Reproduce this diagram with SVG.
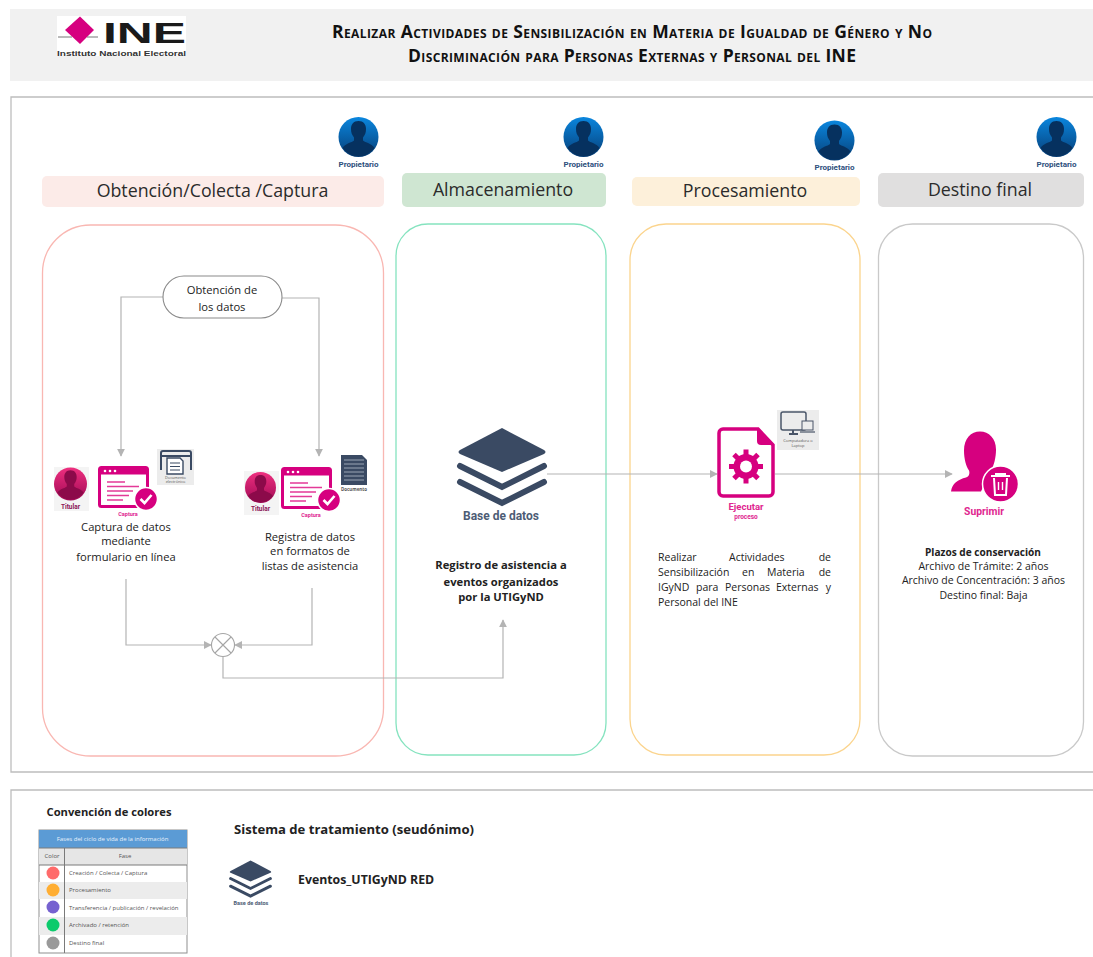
<svg xmlns="http://www.w3.org/2000/svg" width="1093" height="957" viewBox="0 0 1093 957">
<style>
text{font-family:"Open Sans","Liberation Sans",sans-serif;fill:#222}
.t{font-size:11.200px;text-anchor:middle}
.s{font-size:10.500px;text-anchor:middle}
.b{font-weight:700}
.h{font-size:17.800px;text-anchor:middle;fill:#2b2b2b}
.title{font-size:17.500px;font-weight:700;font-variant:small-caps;text-anchor:middle;fill:#111}
.pk{fill:#e0268f;font-family:Roboto,"Liberation Sans",sans-serif;font-weight:700;text-anchor:middle}
.own{fill:#2d4f7c;font-family:Roboto,"Liberation Sans",sans-serif;font-weight:700;font-size:8px;text-anchor:middle}
.frame{fill:none;stroke:#bdbdbd;stroke-width:1.300}
.c{fill:none;stroke:#b4b4b4;stroke-width:1.200}
.lt{font-size:6px;fill:#555}
</style>
<defs>
<marker id="a" viewBox="0 0 10 10" refX="9" refY="5" markerWidth="8" markerHeight="8" markerUnits="userSpaceOnUse" orient="auto"><path d="M0 0L10 5L0 10Z" fill="#b4b4b4"/></marker>
<linearGradient id="blue" x1="0" y1="0" x2="0" y2="1"><stop offset="0" stop-color="#0a86de"/><stop offset="1" stop-color="#073f78"/></linearGradient>
<linearGradient id="red" x1="0" y1="0" x2="0" y2="1"><stop offset="0" stop-color="#ee2f7f"/><stop offset="1" stop-color="#a00a55"/></linearGradient>
<symbol id="head" viewBox="0 0 40 40" overflow="visible">
<path d="M20 4c5 0 7.500 3.500 7.500 8 0 3.500-1 6-3 8.500v3c2 2 9 3 11.500 7.500a19.500 19.500 0 0 1-32 0c2.500-4.500 9.500-5.500 11.500-7.500v-3c-2-2.500-3-5-3-8.500 0-4.500 2.500-8 7.500-8z"/>
</symbol>
<symbol id="form" viewBox="0 0 60 46" overflow="visible">
<rect x="1.500" y="1.500" width="48" height="39" rx="2" fill="#fff" stroke="#d6007f" stroke-width="3"/>
<rect x="1.500" y="1.500" width="48" height="7" fill="#d6007f"/>
<circle cx="7" cy="5" r="1.300" fill="#fff"/><circle cx="12" cy="5" r="1.300" fill="#fff"/><circle cx="17" cy="5" r="1.300" fill="#fff"/>
<path d="M9 16h18M9 20.500h32M9 25h26M9 29.500h22M9 34h16" stroke="#e33a98" stroke-width="1.600"/>
<circle cx="48" cy="33" r="11.500" fill="#d6007f" stroke="#fff" stroke-width="1.500"/>
<path d="M42.500 33l4 4 7-8" fill="none" stroke="#fff" stroke-width="2.600"/>
</symbol>
<symbol id="layers" viewBox="0 0 90 80" overflow="visible">
<path d="M45 1L87 23Q90 25 87 27L45 45L3 27Q0 25 3 23Z" fill="#3a4a63"/>
<path d="M3 39L45 60L87 39" fill="none" stroke="#3a4a63" stroke-width="6" stroke-linecap="round"/>
<path d="M3 55L45 76L87 55" fill="none" stroke="#3a4a63" stroke-width="6" stroke-linecap="round"/>
</symbol>
</defs>

<rect id="header" x="10" y="9" width="1083" height="72" fill="#f1f1f1"/>
<g id="logo">
<rect x="57" y="16" width="129" height="40" fill="#fff"/>
<path d="M80 16.500L94 30 80 44 65 30Z" fill="#d6007f"/>
<path d="M58 37h14M87 37h11" stroke="#777" stroke-width="1"/>
<text x="103" y="43" style="font-family:'Liberation Sans',sans-serif;font-weight:700;font-size:29px;fill:#1a1a1a" textLength="83" lengthAdjust="spacingAndGlyphs">INE</text>
<text x="121.500" y="56" style="font-family:'Liberation Sans',sans-serif;font-weight:700;font-size:7.500px;text-anchor:middle;fill:#333" textLength="129" lengthAdjust="spacingAndGlyphs">Instituto Nacional Electoral</text>
</g>
<text class="title" x="632" y="38" textLength="600">Realizar Actividades de Sensibilización en Materia de Igualdad de Género y No</text>
<text class="title" x="632" y="62" textLength="448">Discriminación para Personas Externas y Personal del INE</text>

<path class="frame" d="M1093 97H11V772H1093"/>
<path class="frame" d="M1093 790H11V957"/>

<g id="fase-obtencion">
<rect x="42" y="176" width="342" height="31" rx="5" fill="#fcebe8"/>
<text class="h" x="212.500" y="197">Obtención/Colecta /Captura</text>
<rect x="42.500" y="225" width="341" height="531" rx="48" fill="none" stroke="#f9b7b2" stroke-width="1.300"/>
</g>
<g id="fase-almacenamiento">
<rect x="402" y="173" width="204" height="34" rx="5" fill="#cfe6d2"/>
<text class="h" x="503" y="196">Almacenamiento</text>
<rect x="396" y="224" width="210" height="531" rx="32" fill="none" stroke="#85e3bf" stroke-width="1.300"/>
</g>
<g id="fase-procesamiento">
<rect x="632" y="177" width="228" height="29" rx="5" fill="#fdf0da"/>
<text class="h" x="745" y="197">Procesamiento</text>
<rect x="630" y="224" width="230" height="531" rx="36" fill="none" stroke="#fbd48d" stroke-width="1.300"/>
</g>
<g id="fase-destino">
<rect x="878" y="173" width="206" height="34" rx="5" fill="#e0dfdf"/>
<text class="h" x="980" y="196">Destino final</text>
<rect x="878.500" y="224" width="205" height="532" rx="34" fill="none" stroke="#c9c9c9" stroke-width="1.300"/>
</g>

<g id="propietarios">
<g id="prop1"><circle cx="358.500" cy="137" r="20" fill="url(#blue)"/><use href="#head" x="338.500" y="117" width="40" height="40" fill="#06315f"/><text class="own" x="358.500" y="167">Propietario</text></g>
<g id="prop2"><circle cx="583.500" cy="137" r="20" fill="url(#blue)"/><use href="#head" x="563.500" y="117" width="40" height="40" fill="#06315f"/><text class="own" x="583.500" y="167">Propietario</text></g>
<g id="prop3"><circle cx="834.500" cy="140.500" r="20" fill="url(#blue)"/><use href="#head" x="814.500" y="120.500" width="40" height="40" fill="#06315f"/><text class="own" x="834.500" y="170">Propietario</text></g>
<g id="prop4"><circle cx="1056.500" cy="137" r="20" fill="url(#blue)"/><use href="#head" x="1036.500" y="117" width="40" height="40" fill="#06315f"/><text class="own" x="1056.500" y="167">Propietario</text></g>
</g>

<g id="connectors">
<path class="c" d="M163 297H121V456" marker-end="url(#a)"/>
<path class="c" d="M282 298H319V456" marker-end="url(#a)"/>
<path class="c" d="M126 579V645H211" marker-end="url(#a)"/>
<path class="c" d="M312 588V645H235" marker-end="url(#a)"/>
<path class="c" d="M223 657V678H503V620" marker-end="url(#a)"/>
<path class="c" d="M547 474H717" marker-end="url(#a)"/>
<path class="c" d="M775 474H952" marker-end="url(#a)"/>
</g>

<g id="obtencion-datos">
<rect x="163" y="276" width="119" height="42" rx="21" fill="#fff" stroke="#8a8a8a" stroke-width="1.100"/>
<text class="t" x="222" y="294">Obtención de</text>
<text class="t" x="222" y="311">los datos</text>
</g>

<g id="captura-1">
<rect x="54" y="467" width="35" height="44" fill="#f4f4f4"/>
<circle cx="70.500" cy="484" r="16.500" fill="url(#red)"/><use href="#head" x="54" y="467" width="33" height="33" fill="#8c0a4a"/>
<text x="70.500" y="509" style="font-size:6.500px;font-weight:700;text-anchor:middle;fill:#8c1458;font-family:Roboto,sans-serif">Titular</text>
<use href="#form" x="98" y="466" width="60" height="46"/>
<text class="pk" x="128" y="516" style="font-size:5.500px">Captura</text>
<rect x="157" y="449" width="37" height="36" fill="#ececec"/>
<path d="M161 470v-17a2 2 0 0 1 2-2h26a2 2 0 0 1 2 2v17M161 456h30" fill="none" stroke="#3a4a63" stroke-width="2"/>
<path d="M167 458h13l3 3v13h-16z" fill="#fff" stroke="#3a4a63" stroke-width="1.400"/>
<path d="M170 463h10M170 466.500h10M170 470h10" stroke="#3a4a63"/>
<text class="lt" x="175.500" y="479" style="font-size:3.800px;text-anchor:middle">Documento</text>
<text class="lt" x="175.500" y="483" style="font-size:3.800px;text-anchor:middle">electrónico</text>
<text class="t" x="126" y="531">Captura de datos</text>
<text class="t" x="126" y="545">mediante</text>
<text class="t" x="126" y="561">formulario en línea</text>
</g>

<g id="captura-2">
<rect x="244" y="471" width="35" height="44" fill="#f4f4f4"/>
<circle cx="260.500" cy="487.500" r="15.500" fill="url(#red)"/><use href="#head" x="245" y="472" width="31" height="31" fill="#8c0a4a"/>
<text x="260.500" y="511" style="font-size:6.500px;font-weight:700;text-anchor:middle;fill:#8c1458;font-family:Roboto,sans-serif">Titular</text>
<use href="#form" x="281" y="467" width="60" height="46"/>
<text class="pk" x="311" y="517" style="font-size:5.500px">Captura</text>
<path d="M341 455h21l5 5v25h-26z" fill="#3a4a63"/>
<path d="M344 460h20M344 464h20M344 468h20M344 472h20M344 476h20M344 480h20" stroke="#9aa5b5" stroke-width="1"/>
<text class="lt" x="354" y="491" style="font-size:4.500px;text-anchor:middle;font-weight:700">Documento</text>
<text class="t" x="310" y="541">Registra de datos</text>
<text class="t" x="310" y="555">en formatos de</text>
<text class="t" x="310" y="570">listas de asistencia</text>
</g>

<g id="union">
<circle cx="223" cy="645" r="11.500" fill="#fff" stroke="#a5a5a5" stroke-width="1.100"/>
<path d="M215 637L231 653M231 637L215 653" stroke="#a5a5a5" stroke-width="1.100"/>
</g>

<g id="base-datos">
<use href="#layers" x="457" y="427" width="90" height="80"/>
<text x="501" y="520" style="font-family:Roboto,sans-serif;font-size:12px;font-weight:700;text-anchor:middle;fill:#4d5c75">Base de datos</text>
<text class="t b" x="501" y="569">Registro de asistencia a</text>
<text class="t b" x="501" y="586">eventos organizados</text>
<text class="t b" x="501" y="601">por la UTIGyND</text>
</g>

<g id="ejecutar">
<path d="M723 429h35l15 16v47a4 4 0 0 1-4 4h-46a4 4 0 0 1-4-4v-59a4 4 0 0 1 4-4z" fill="#fff" stroke="#d6007f" stroke-width="3.500"/>
<path d="M757 429l16 16h-12a4 4 0 0 1-4-4z" fill="#d6007f"/>
<circle cx="746" cy="466.500" r="12.500" fill="#d6007f"/>
<path d="M746 449.500v34M729 466.500h34M734 454.500l24 24M758 454.500l-24 24" stroke="#d6007f" stroke-width="5"/>
<circle cx="746" cy="466.500" r="6" fill="#fff"/>
<text class="pk" x="746" y="510" style="font-size:9.500px">Ejecutar</text>
<text class="pk" x="746" y="519" style="font-size:6.500px">proceso</text>
<rect x="777" y="410" width="42" height="40" fill="#ececec"/>
<rect x="781" y="412" width="25" height="18" rx="2" fill="none" stroke="#4a5568" stroke-width="1.500"/>
<path d="M789 434h9M793 430v4" stroke="#4a5568" stroke-width="2"/>
<rect x="802" y="421" width="11" height="9" fill="#ececec" stroke="#4a5568"/>
<path d="M800 432h15" stroke="#4a5568" stroke-width="1.200"/>
<text class="lt" x="798" y="442" style="font-size:4px;text-anchor:middle">Computadora o</text>
<text class="lt" x="798" y="447" style="font-size:4px;text-anchor:middle">Laptop</text>
<g style="font-size:10.500px">
<text x="658" y="561">Realizar</text><text x="729" y="561">Actividades</text><text x="831" y="561" text-anchor="end">de</text>
<text x="658" y="576">Sensibilización</text><text x="742" y="576">en</text><text x="767" y="576">Materia</text><text x="831" y="576" text-anchor="end">de</text>
<text x="658" y="591">IGyND</text><text x="696" y="591">para</text><text x="725" y="591">Personas</text><text x="776" y="591">Externas</text><text x="831" y="591" text-anchor="end">y</text>
<text x="658" y="606">Personal del INE</text>
</g>
</g>

<g id="suprimir">
<path d="M951 491.500c1-8 7-12 15-14 3-1 4-4 3-7-3-4-5-12-5-20 0-12 7-19 16-19s16 7 16 18c0 8-2 16-5 21v6l-6 6-4 9z" fill="#d6007f"/>
<circle cx="1000.500" cy="484" r="18" fill="#d6007f" stroke="#fff" stroke-width="1.500"/>
<path d="M991 476h19M996 476v-2h9v2M994 478l1 17h11l1-17" fill="none" stroke="#fff" stroke-width="2"/>
<path d="M998.500 482v8M1002.500 482v8" stroke="#fff" stroke-width="1.400"/>
<text class="pk" x="984" y="515" style="font-size:10.300px">Suprimir</text>
<text class="b" x="983" y="556" style="font-size:10.100px;text-anchor:middle">Plazos de conservación</text>
<text class="s" x="983.500" y="570">Archivo de Trámite: 2 años</text>
<text class="s" x="983.500" y="584">Archivo de Concentración: 3 años</text>
<text class="s" x="983.500" y="599">Destino final: Baja</text>
</g>

<g id="leyenda">
<text x="109" y="816" class="t b">Convención de colores</text>
<rect x="39" y="830" width="148" height="123" fill="#fff" stroke="#8f8f8f"/>
<rect x="39" y="830" width="148" height="18" fill="#5b9bd5"/>
<text x="112.500" y="841" style="font-size:6px;fill:#e8f1fb;text-anchor:middle">Fases del ciclo de vida de la información</text>
<rect x="39" y="848" width="148" height="17" fill="#e6e6e6"/>
<rect x="39" y="882" width="148" height="17" fill="#ececec"/>
<rect x="39" y="917" width="148" height="18" fill="#ececec"/>
<path d="M39 848H187M39 865H187M64.500 848V953" stroke="#7a7a7a" stroke-width="1"/>
<text class="lt" x="52" y="858" text-anchor="middle">Color</text>
<text class="lt" x="125" y="858" text-anchor="middle">Fase</text>
<circle cx="53" cy="873" r="6.500" fill="#ff6b6b"/><text class="lt" x="69" y="875">Creación / Colecta / Captura</text>
<circle cx="53" cy="890" r="6.500" fill="#ffae33"/><text class="lt" x="69" y="892">Procesamiento</text>
<circle cx="53" cy="907" r="6.500" fill="#7662d0"/><text class="lt" x="69" y="910">Transferencia / publicación / revelación</text>
<circle cx="53" cy="925" r="6.500" fill="#0ccb6c"/><text class="lt" x="69" y="927">Archivado / retención</text>
<circle cx="53" cy="943" r="6.500" fill="#999"/><text class="lt" x="69" y="945">Destino final</text>
</g>

<g id="sistema">
<text x="234" y="834" style="font-size:13.100px;font-weight:700">Sistema de tratamiento (seudónimo)</text>
<use href="#layers" x="229" y="860" width="43" height="38"/>
<text x="251" y="905" style="font-family:Roboto,sans-serif;font-size:5.500px;font-weight:700;text-anchor:middle;fill:#4d5c75">Base de datos</text>
<text x="298" y="884" style="font-size:12.300px;font-weight:700">Eventos_UTIGyND RED</text>
</g>
</svg>
